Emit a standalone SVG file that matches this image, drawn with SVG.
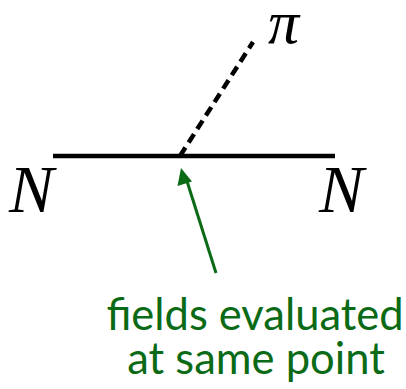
<svg xmlns="http://www.w3.org/2000/svg" width="406" height="389" viewBox="0 0 406 389">
<style>
.lbl{font-family:"Liberation Serif","DejaVu Serif",serif;font-style:italic;fill:#000}
.note{font-family:Lato,"Noto Sans",sans-serif;fill:#0b6a16;font-size:43.5px;text-anchor:middle}
</style>
<g id="connectors">
<line x1="53" y1="156" x2="335" y2="156" stroke="#000" stroke-width="4.5"/>
<line x1="180" y1="156" x2="253" y2="42" stroke="#000" stroke-width="4.5" stroke-dasharray="10,6"/>
<line x1="216" y1="273" x2="186" y2="178" stroke="#0b6a16" stroke-width="3"/>
<path d="M181,168 L177.5,186 L192,181.5 z" fill="#0b6a16"/>
</g>
<g id="nodeN1"><text class="lbl" x="9" y="212" font-size="67">N</text></g>
<g id="nodeN2"><text class="lbl" x="319" y="212" font-size="67">N</text></g>
<g id="nodePi"><text class="lbl" x="268" y="43" font-size="62">π</text></g>
<g id="note">
<text class="note" x="255" y="330">fields evaluated</text>
<text class="note" x="256" y="374">at same point</text>
</g>
</svg>
